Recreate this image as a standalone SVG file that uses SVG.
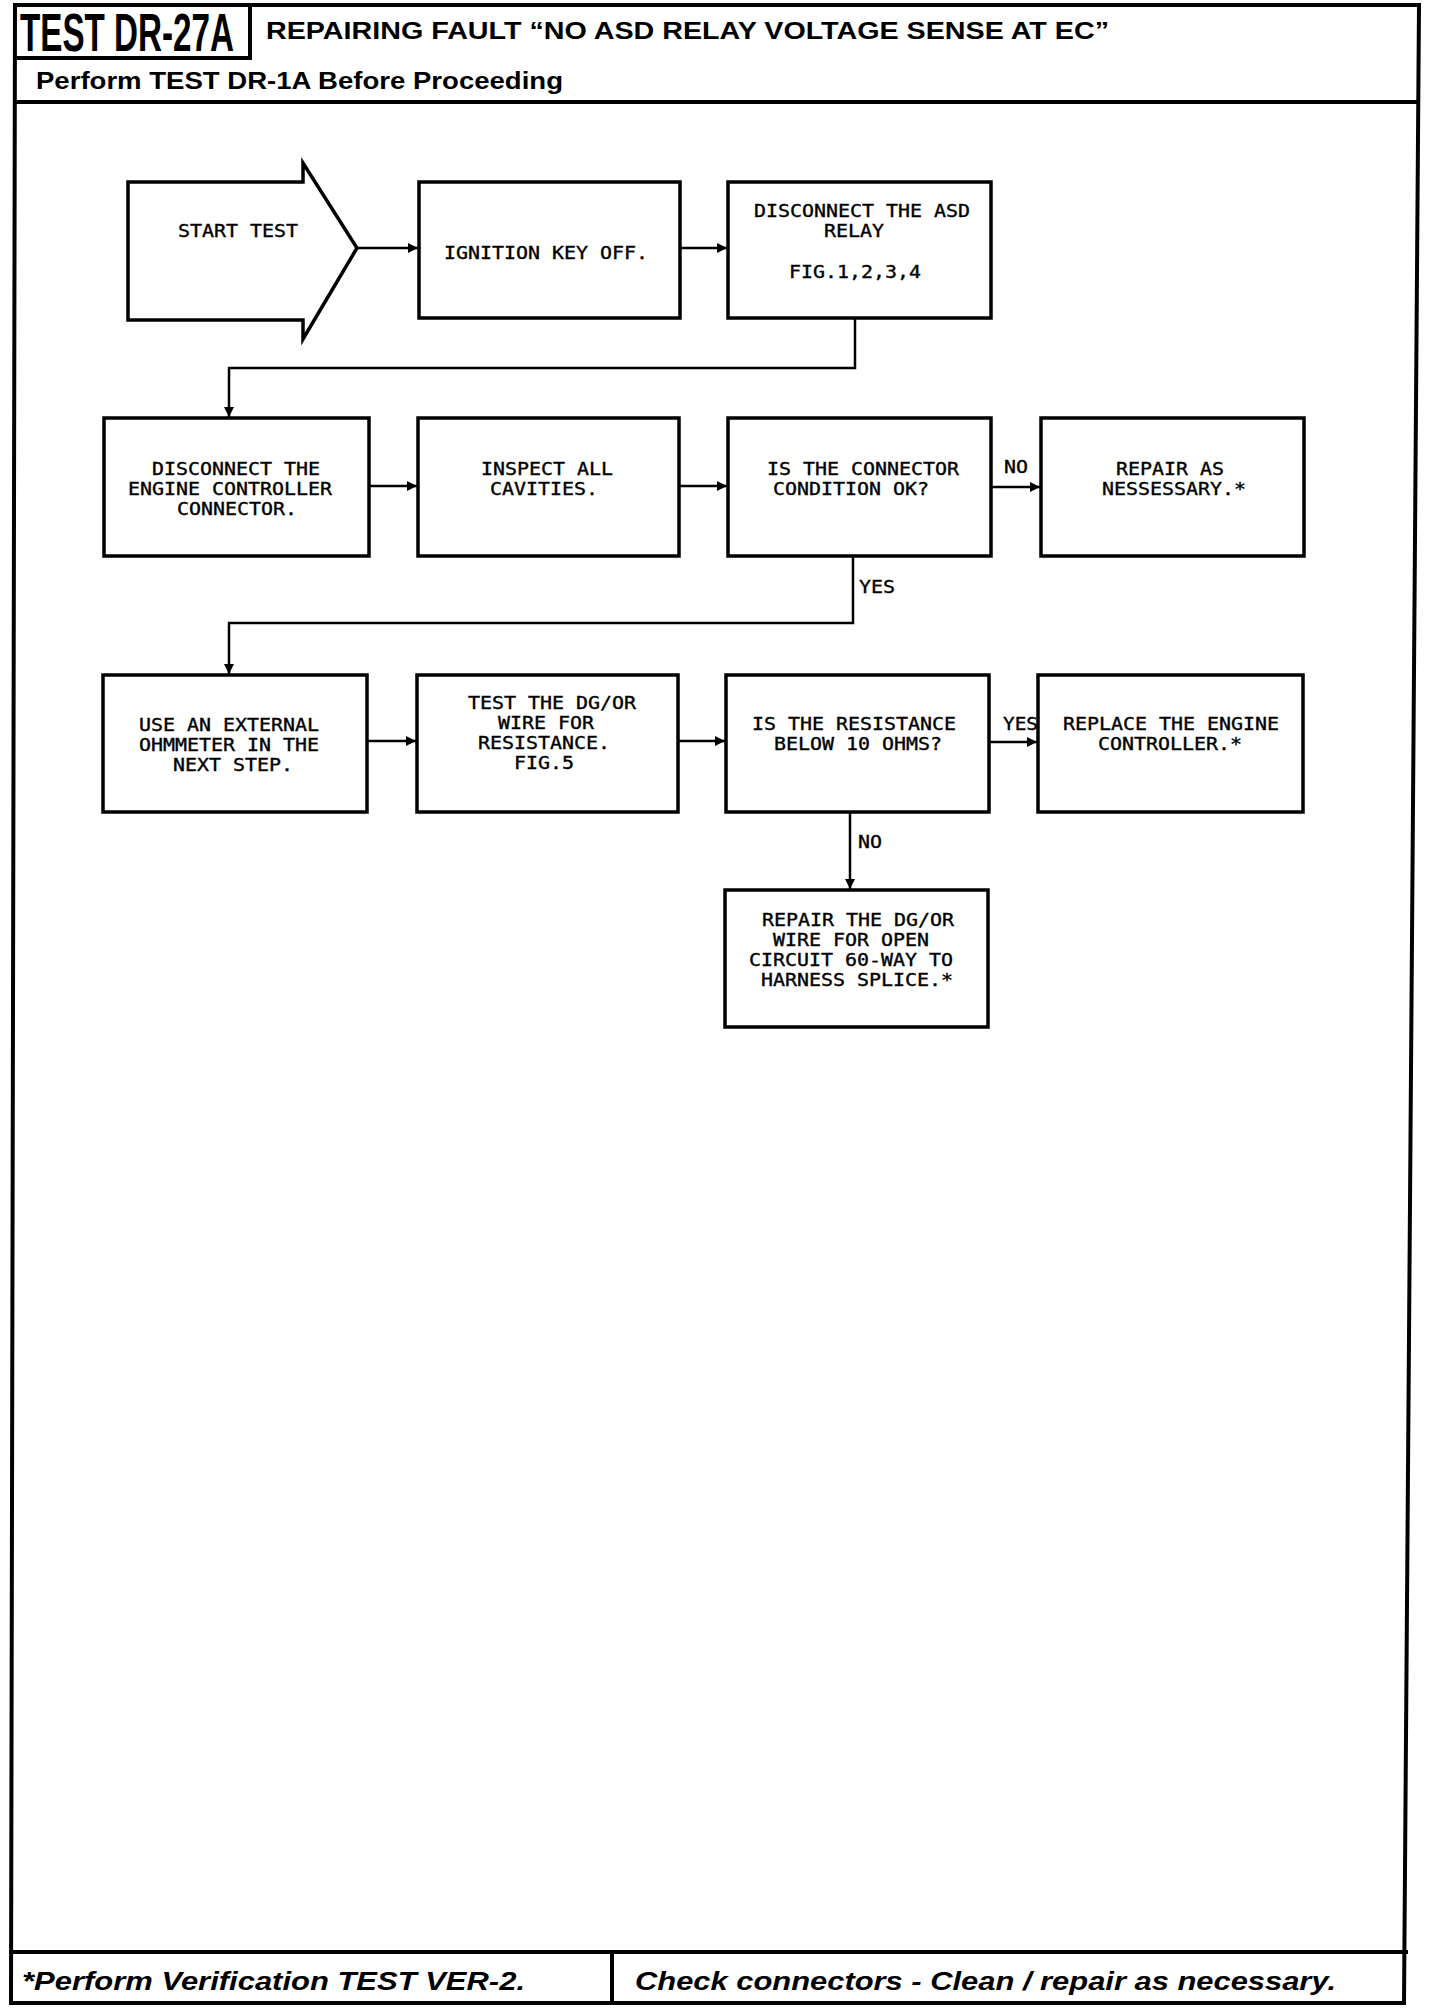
<svg xmlns="http://www.w3.org/2000/svg" width="1440" height="2008" viewBox="0 0 1440 2008">
<style>
.frame{fill:none;stroke:#000;stroke-width:4;stroke-linecap:square}
.box{fill:#fff;stroke:#000;stroke-width:3.5}
.con{fill:none;stroke:#000;stroke-width:2.5}
.t{font-family:"DejaVu Sans Mono","Liberation Mono",monospace;font-size:17px;fill:#000;stroke:#000;stroke-width:0.35}
.hd{font-family:"Liberation Sans",Arial,sans-serif;font-weight:bold;fill:#000}
.ft{font-family:"Liberation Sans",Arial,sans-serif;font-weight:bold;font-style:italic;fill:#000}
</style>
<defs>
<marker id="ah" markerUnits="userSpaceOnUse" markerWidth="12" markerHeight="10" refX="10" refY="5" orient="auto">
<path d="M0,0 L10,5 L0,10 Z" fill="#000"/>
</marker>
</defs>
<rect width="1440" height="2008" fill="#fff"/>
<g id="frame">
<path class="frame" d="M15,5 L1419,5 L1404,2003 L11,2003 Z"/>
<path class="frame" d="M15,58 L250,58 L250,5"/>
<path class="frame" d="M15,102 L1417,102"/>
<path class="frame" d="M12,1952 L1406,1952"/>
<path class="frame" d="M612,1952 L612,2003"/>
<text class="hd" transform="translate(20,51) scale(1,1.55)" x="0" y="0" font-size="35" textLength="214" lengthAdjust="spacingAndGlyphs">TEST DR-27A</text>
<text class="hd" x="266" y="39" font-size="24" textLength="843" lengthAdjust="spacingAndGlyphs">REPAIRING FAULT “NO ASD RELAY VOLTAGE SENSE AT EC”</text>
<text class="hd" x="36" y="89" font-size="24" textLength="527" lengthAdjust="spacingAndGlyphs">Perform TEST DR-1A Before Proceeding</text>
<text class="ft" x="22" y="1990" font-size="26" textLength="503" lengthAdjust="spacingAndGlyphs">*Perform Verification TEST VER-2.</text>
<text class="ft" x="635" y="1990" font-size="26" textLength="701" lengthAdjust="spacingAndGlyphs">Check connectors - Clean / repair as necessary.</text>
</g>
<g id="connectors">
<path class="con" d="M357,248 L418,248" marker-end="url(#ah)"/>
<path class="con" d="M680,248 L727,248" marker-end="url(#ah)"/>
<path class="con" d="M855,318 L855,368 L229,368 L229,417" marker-end="url(#ah)"/>
<path class="con" d="M369,486 L417,486" marker-end="url(#ah)"/>
<path class="con" d="M679,486 L727,486" marker-end="url(#ah)"/>
<path class="con" d="M991,487 L1040,487" marker-end="url(#ah)"/>
<path class="con" d="M853,556 L853,623 L229,623 L229,674" marker-end="url(#ah)"/>
<path class="con" d="M367,741 L416,741" marker-end="url(#ah)"/>
<path class="con" d="M678,741 L725,741" marker-end="url(#ah)"/>
<path class="con" d="M989,742 L1037,742" marker-end="url(#ah)"/>
<path class="con" d="M850,812 L850,889" marker-end="url(#ah)"/>
<text class="t" x="1004" y="473" textLength="24" lengthAdjust="spacingAndGlyphs">NO</text>
<text class="t" x="859" y="593" textLength="36" lengthAdjust="spacingAndGlyphs">YES</text>
<text class="t" x="1003" y="730" textLength="35" lengthAdjust="spacingAndGlyphs">YES</text>
<text class="t" x="858" y="848" textLength="24" lengthAdjust="spacingAndGlyphs">NO</text>
</g>
<g id="start">
<path class="box" d="M128,182 L303,182 L303,163 L357,248 L303,339 L303,320 L128,320 Z"/>
<text class="t" x="178" y="237" textLength="120" lengthAdjust="spacingAndGlyphs">START TEST</text>
</g>
<g id="ignition">
<rect class="box" x="419" y="182" width="261" height="136"/>
<text class="t" x="444" y="259" textLength="204" lengthAdjust="spacingAndGlyphs">IGNITION KEY OFF.</text>
</g>
<g id="asd">
<rect class="box" x="728" y="182" width="263" height="136"/>
<text class="t" x="754" y="217" textLength="216" lengthAdjust="spacingAndGlyphs">DISCONNECT THE ASD</text>
<text class="t" x="824" y="237" textLength="60" lengthAdjust="spacingAndGlyphs">RELAY</text>
<text class="t" x="789" y="278" textLength="132" lengthAdjust="spacingAndGlyphs">FIG.1,2,3,4</text>
</g>
<g id="disconnect-ec">
<rect class="box" x="104" y="418" width="265" height="138"/>
<text class="t" x="152" y="475" textLength="168" lengthAdjust="spacingAndGlyphs">DISCONNECT THE</text>
<text class="t" x="128" y="495" textLength="204" lengthAdjust="spacingAndGlyphs">ENGINE CONTROLLER</text>
<text class="t" x="177" y="515" textLength="120" lengthAdjust="spacingAndGlyphs">CONNECTOR.</text>
</g>
<g id="inspect">
<rect class="box" x="418" y="418" width="261" height="138"/>
<text class="t" x="481" y="475" textLength="132" lengthAdjust="spacingAndGlyphs">INSPECT ALL</text>
<text class="t" x="490" y="495" textLength="108" lengthAdjust="spacingAndGlyphs">CAVITIES.</text>
</g>
<g id="connector-ok">
<rect class="box" x="728" y="418" width="263" height="138"/>
<text class="t" x="767" y="475" textLength="192" lengthAdjust="spacingAndGlyphs">IS THE CONNECTOR</text>
<text class="t" x="773" y="495" textLength="156" lengthAdjust="spacingAndGlyphs">CONDITION OK?</text>
</g>
<g id="repair-as">
<rect class="box" x="1041" y="418" width="263" height="138"/>
<text class="t" x="1116" y="475" textLength="108" lengthAdjust="spacingAndGlyphs">REPAIR AS</text>
<text class="t" x="1102" y="495" textLength="144" lengthAdjust="spacingAndGlyphs">NESSESSARY.*</text>
</g>
<g id="ohmmeter">
<rect class="box" x="103" y="675" width="264" height="137"/>
<text class="t" x="139" y="731" textLength="180" lengthAdjust="spacingAndGlyphs">USE AN EXTERNAL</text>
<text class="t" x="139" y="751" textLength="180" lengthAdjust="spacingAndGlyphs">OHMMETER IN THE</text>
<text class="t" x="173" y="771" textLength="120" lengthAdjust="spacingAndGlyphs">NEXT STEP.</text>
</g>
<g id="test-wire">
<rect class="box" x="417" y="675" width="261" height="137"/>
<text class="t" x="468" y="709" textLength="168" lengthAdjust="spacingAndGlyphs">TEST THE DG/OR</text>
<text class="t" x="498" y="729" textLength="96" lengthAdjust="spacingAndGlyphs">WIRE FOR</text>
<text class="t" x="478" y="749" textLength="132" lengthAdjust="spacingAndGlyphs">RESISTANCE.</text>
<text class="t" x="514" y="769" textLength="60" lengthAdjust="spacingAndGlyphs">FIG.5</text>
</g>
<g id="resistance">
<rect class="box" x="726" y="675" width="263" height="137"/>
<text class="t" x="752" y="730" textLength="204" lengthAdjust="spacingAndGlyphs">IS THE RESISTANCE</text>
<text class="t" x="774" y="750" textLength="168" lengthAdjust="spacingAndGlyphs">BELOW 10 OHMS?</text>
</g>
<g id="replace-ec">
<rect class="box" x="1038" y="675" width="265" height="137"/>
<text class="t" x="1063" y="730" textLength="216" lengthAdjust="spacingAndGlyphs">REPLACE THE ENGINE</text>
<text class="t" x="1098" y="750" textLength="144" lengthAdjust="spacingAndGlyphs">CONTROLLER.*</text>
</g>
<g id="repair-wire">
<rect class="box" x="725" y="890" width="263" height="137"/>
<text class="t" x="762" y="926" textLength="192" lengthAdjust="spacingAndGlyphs">REPAIR THE DG/OR</text>
<text class="t" x="773" y="946" textLength="156" lengthAdjust="spacingAndGlyphs">WIRE FOR OPEN</text>
<text class="t" x="749" y="966" textLength="204" lengthAdjust="spacingAndGlyphs">CIRCUIT 60-WAY TO</text>
<text class="t" x="761" y="986" textLength="192" lengthAdjust="spacingAndGlyphs">HARNESS SPLICE.*</text>
</g>
</svg>
